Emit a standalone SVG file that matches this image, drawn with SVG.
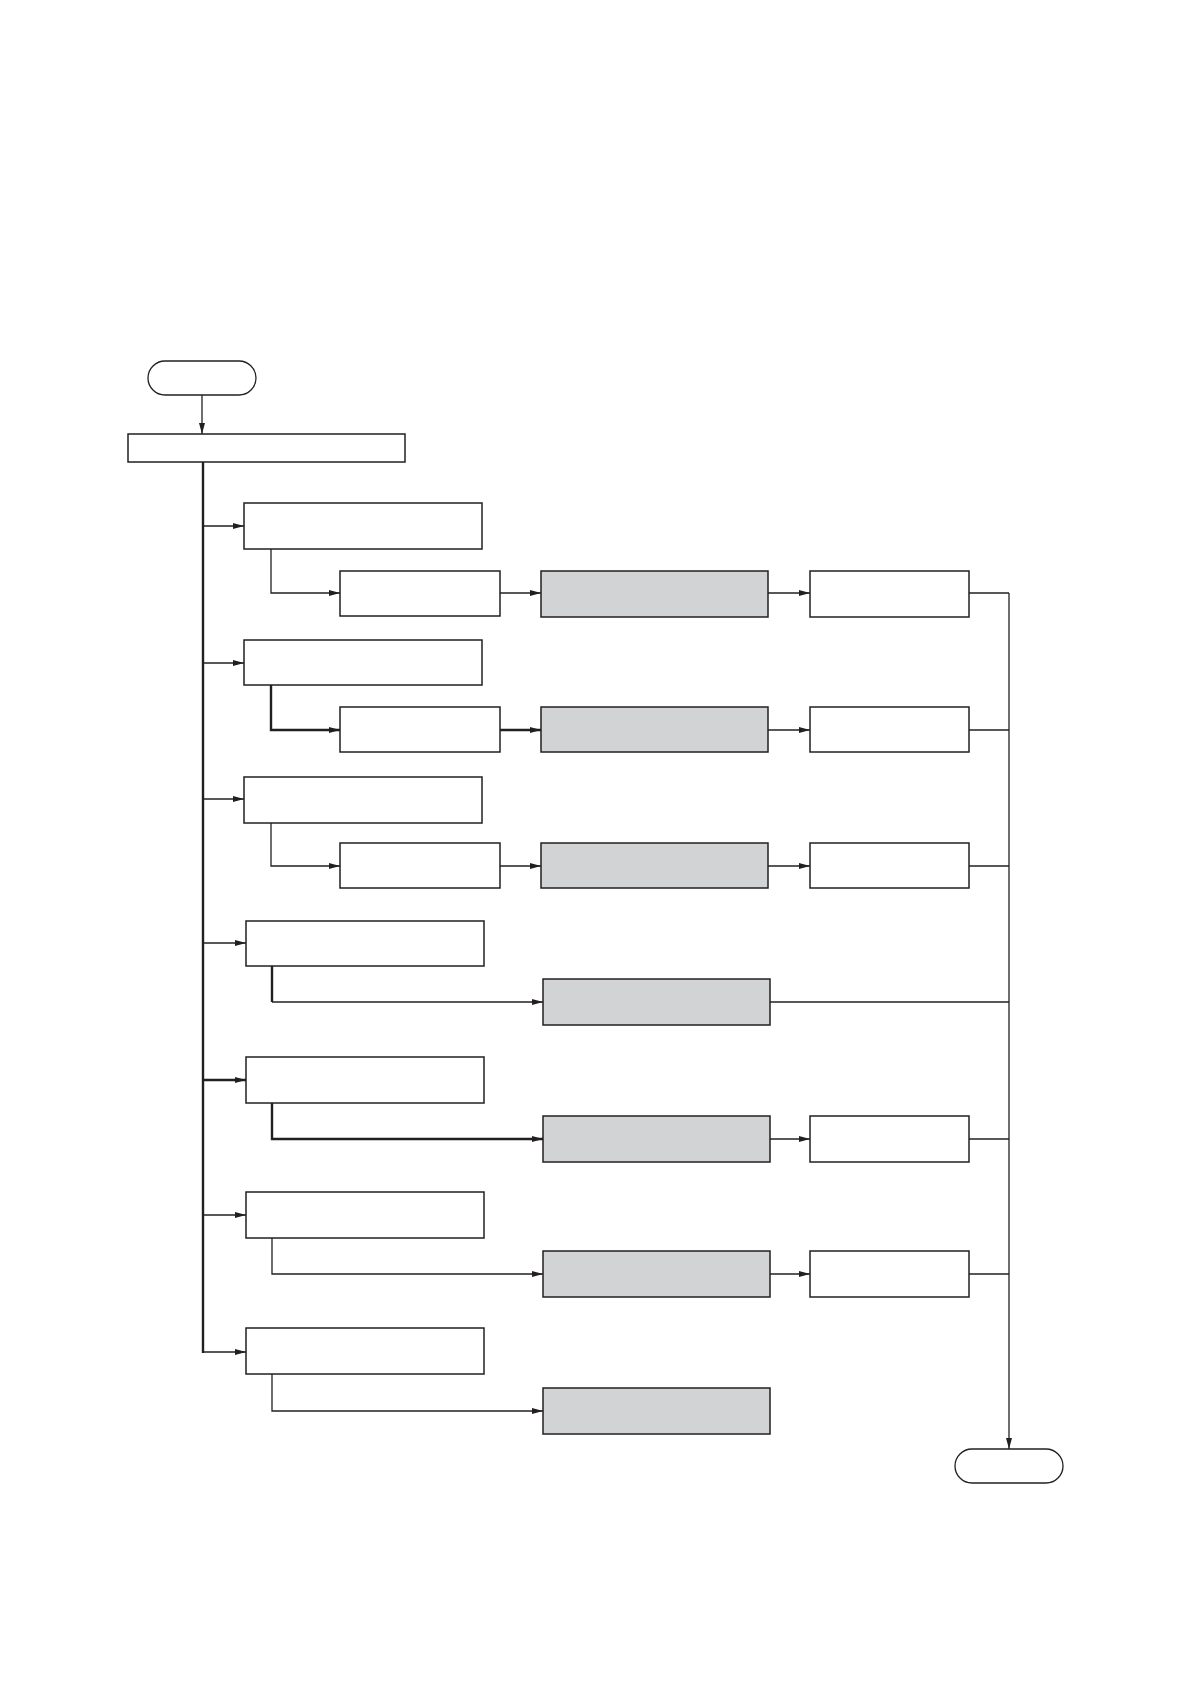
<svg xmlns="http://www.w3.org/2000/svg" width="1192" height="1682" viewBox="0 0 1192 1682">
<style>
.box{fill:#ffffff;stroke:#231f20;stroke-width:1.5}
.gray{fill:#d1d3d4;stroke:#231f20;stroke-width:1.5}
.term{fill:#ffffff;stroke:#231f20;stroke-width:1.3}
.ln{fill:none;stroke:#231f20;stroke-width:1.3}
.thick{fill:none;stroke:#231f20;stroke-width:2.4}
.arr{marker-end:url(#ah)}
</style>
<defs>
<marker id="ah" markerUnits="userSpaceOnUse" markerWidth="11" markerHeight="8" refX="11" refY="4" orient="auto">
<path d="M0,1 L11,4 L0,7 Z" fill="#231f20"/>
</marker>
</defs>
<rect width="1192" height="1682" fill="#ffffff"/>
<g id="nodes">
<g id="start"><rect class="term" x="148" y="361" width="108" height="34" rx="17"/></g>
<g id="top"><rect class="box" x="128" y="434" width="277" height="28"/></g>
<g id="a1"><rect class="box" x="244" y="503" width="238" height="46"/></g>
<g id="b1"><rect class="box" x="340" y="571" width="160" height="45"/></g>
<g id="c1"><rect class="gray" x="541" y="571" width="227" height="46"/></g>
<g id="d1"><rect class="box" x="810" y="571" width="159" height="46"/></g>
<g id="a2"><rect class="box" x="244" y="640" width="238" height="45"/></g>
<g id="b2"><rect class="box" x="340" y="707" width="160" height="45"/></g>
<g id="c2"><rect class="gray" x="541" y="707" width="227" height="45"/></g>
<g id="d2"><rect class="box" x="810" y="707" width="159" height="45"/></g>
<g id="a3"><rect class="box" x="244" y="777" width="238" height="46"/></g>
<g id="b3"><rect class="box" x="340" y="843" width="160" height="45"/></g>
<g id="c3"><rect class="gray" x="541" y="843" width="227" height="45"/></g>
<g id="d3"><rect class="box" x="810" y="843" width="159" height="45"/></g>
<g id="a4"><rect class="box" x="246" y="921" width="238" height="45"/></g>
<g id="c4"><rect class="gray" x="543" y="979" width="227" height="46"/></g>
<g id="a5"><rect class="box" x="246" y="1057" width="238" height="46"/></g>
<g id="c5"><rect class="gray" x="543" y="1116" width="227" height="46"/></g>
<g id="d5"><rect class="box" x="810" y="1116" width="159" height="46"/></g>
<g id="a6"><rect class="box" x="246" y="1192" width="238" height="46"/></g>
<g id="c6"><rect class="gray" x="543" y="1251" width="227" height="46"/></g>
<g id="d6"><rect class="box" x="810" y="1251" width="159" height="46"/></g>
<g id="a7"><rect class="box" x="246" y="1328" width="238" height="46"/></g>
<g id="c7"><rect class="gray" x="543" y="1388" width="227" height="46"/></g>
<g id="end"><rect class="term" x="955" y="1449" width="108" height="34" rx="17"/></g>
</g>
<g id="connectors">
<line class="ln arr" x1="202" y1="395" x2="202" y2="434"/>
<line class="thick" x1="203" y1="462" x2="203" y2="1353"/>
<line class="ln arr" x1="203" y1="526" x2="244" y2="526"/>
<line class="ln arr" x1="203" y1="663" x2="244" y2="663"/>
<line class="ln arr" x1="203" y1="799" x2="244" y2="799"/>
<line class="ln arr" x1="203" y1="943" x2="246" y2="943"/>
<line class="thick arr" x1="203" y1="1080" x2="246" y2="1080"/>
<line class="ln arr" x1="203" y1="1215" x2="246" y2="1215"/>
<path class="ln arr" d="M203,1352 H246"/>
<path class="ln arr" d="M271,549 V593 H340"/>
<path class="thick arr" d="M271,685 V730 H340"/>
<path class="ln arr" d="M271,823 V866 H340"/>
<path class="thick" d="M272,966 V1002"/>
<path class="ln arr" d="M272,1002 H543"/>
<path class="thick arr" d="M272,1103 V1139 H543"/>
<path class="ln arr" d="M272,1238 V1274 H543"/>
<path class="ln arr" d="M272,1374 V1411 H543"/>
<line class="ln arr" x1="500" y1="593" x2="541" y2="593"/>
<line class="thick arr" x1="500" y1="730" x2="541" y2="730"/>
<line class="ln arr" x1="500" y1="866" x2="541" y2="866"/>
<line class="ln arr" x1="768" y1="593" x2="810" y2="593"/>
<line class="ln arr" x1="768" y1="730" x2="810" y2="730"/>
<line class="ln arr" x1="768" y1="866" x2="810" y2="866"/>
<line class="ln arr" x1="770" y1="1139" x2="810" y2="1139"/>
<line class="ln arr" x1="770" y1="1274" x2="810" y2="1274"/>
<line class="ln" x1="969" y1="593" x2="1009" y2="593"/>
<line class="ln" x1="969" y1="730" x2="1009" y2="730"/>
<line class="ln" x1="969" y1="866" x2="1009" y2="866"/>
<line class="ln" x1="770" y1="1002" x2="1009" y2="1002"/>
<line class="ln" x1="969" y1="1139" x2="1009" y2="1139"/>
<line class="ln" x1="969" y1="1274" x2="1009" y2="1274"/>
<line class="ln arr" x1="1009" y1="593" x2="1009" y2="1449"/>
</g>
</svg>
